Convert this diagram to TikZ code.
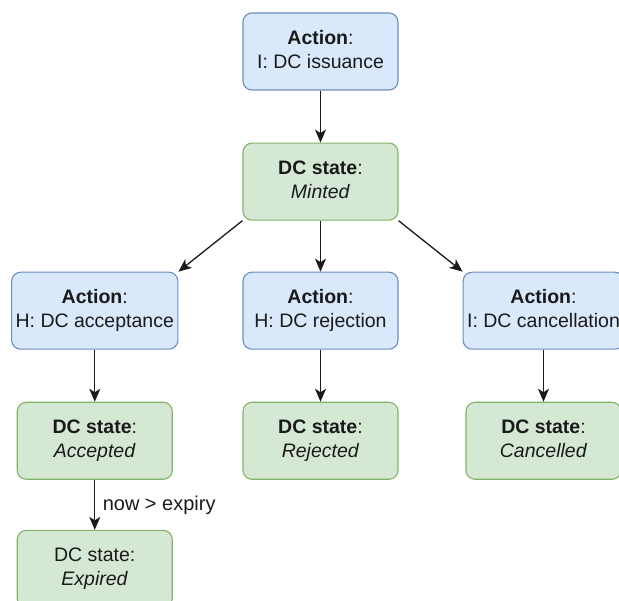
\documentclass[tikz,border=0pt]{standalone}
\usepackage{fontspec}
\setmainfont{Liberation Sans}
\usepackage{tikz}
\usetikzlibrary{arrows.meta}
\usetikzlibrary{positioning}

\definecolor{actfill}{HTML}{DAE8FC}
\definecolor{actline}{HTML}{6C8EBF}
\definecolor{stfill}{HTML}{D5E8D4}
\definecolor{stline}{HTML}{82B366}
\definecolor{ink}{HTML}{1A1A1A}

\begin{document}
\begin{tikzpicture}[
    box/.style={rectangle, rounded corners=9pt, line width=1.1pt, align=center,
        minimum width=155pt, minimum height=77pt, inner xsep=4pt, text=ink,
        font=\fontsize{19.5pt}{23.5pt}\selectfont, execute at end node=\vphantom{p}},
    action/.style={box, draw=actline, fill=actfill},
    dcstate/.style={box, draw=stline, fill=stfill},
    flow/.style={-{Stealth[length=13pt,width=11pt,inset=3.5pt]}, line width=1.3pt, draw=ink},
    node distance=52pt and 64pt]
        \useasboundingbox (0,0) rectangle (619pt,-601pt);

        \node[action] (issue) at (320.5pt,-51.5pt) {\textbf{Action}:\\I: DC issuance};
        \node[dcstate, below=of issue] (minted) {\textbf{DC state}:\\\textit{Minted}};
        \node[action, below=51pt of minted] (rej-act) {\textbf{Action}:\\H: DC rejection};
        \node[action, left=of rej-act] (acc-act) {\textbf{Action}:\\H: DC acceptance};
        \node[action, right=of rej-act] (can-act) {\textbf{Action}:\\I: DC cancellation};
        \node[dcstate, below=of acc-act] (accepted) {\textbf{DC state}:\\\textit{Accepted}};
        \node[dcstate, below=of rej-act] (rejected) {\textbf{DC state}:\\\textit{Rejected}};
        \node[dcstate, below=of can-act] (cancelled) {\textbf{DC state}:\\\textit{Cancelled}};
        \node[dcstate, below=50pt of accepted] (expired) {DC state:\\\textit{Expired}};

        \draw[flow]  (issue)  --  (minted);
        \draw[flow]  (minted.south west)  --  (acc-act.north east);
        \draw[flow]  (minted)  --  (rej-act);
        \draw[flow]  (minted.south east)  --  (can-act.north west);
        \draw[flow]  (acc-act)  --  (accepted);
        \draw[flow]  (rej-act)  --  (rejected);
        \draw[flow]  (can-act)  --  (cancelled);
        \draw[flow]  (accepted)  --  node[right=4pt, text=ink, font=\fontsize{20pt}{24pt}\selectfont] {now > expiry} (expired);
    \end{tikzpicture}
\end{document}
